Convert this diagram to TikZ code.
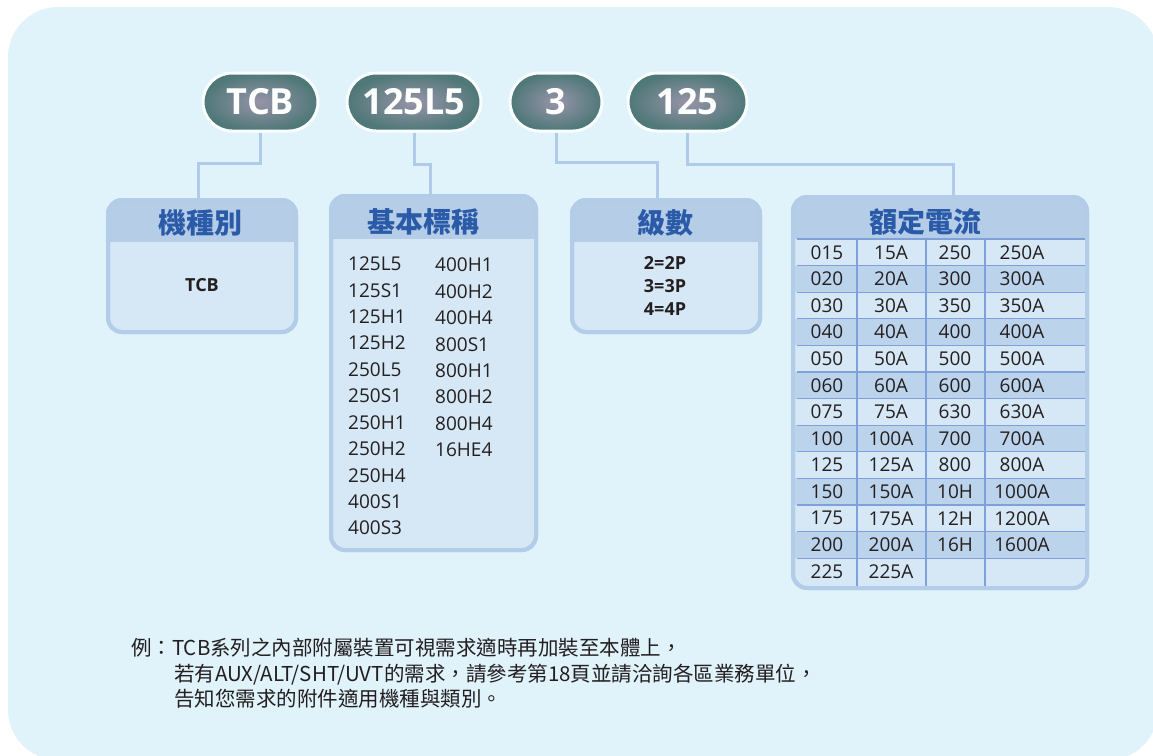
\documentclass[tikz,border=0pt]{standalone}
\usepackage{fontspec}
\setmainfont{Open Sans}
\newfontfamily\cjk{Noto Sans CJK TC}
\usetikzlibrary{positioning}

\definecolor{bgblue}{HTML}{E0F2FA}
\definecolor{panelfill}{HTML}{D6E8F6}
\definecolor{panelline}{HTML}{B3CDE9}
\definecolor{headfill}{HTML}{B5CDE7}
\definecolor{headtext}{HTML}{2B5BA8}
\definecolor{rowdark}{HTML}{BCD3EC}
\definecolor{gridblue}{HTML}{7FA0D8}
\definecolor{linkblue}{HTML}{AFCBE7}
\definecolor{pillin}{HTML}{9794A8}
\definecolor{pillout}{HTML}{4F7878}
\definecolor{ink}{HTML}{231F20}

\begin{document}
\begin{tikzpicture}[x=1pt, y=-1pt,
    pill/.style = {rectangle, rounded corners=29pt, minimum height=58pt, inner color=pillin,
                   outer color=pillout, draw=white!85!bgblue, line width=3pt, text=white,
                   font=\bfseries\fontsize{36}{36}\selectfont},
    panel/.style = {rectangle, rounded corners=14pt, fill=panelfill, draw=panelline,
                    line width=4pt, outer sep=0pt},
    rim/.style = {draw=panelline, line width=4pt, rounded corners=14pt},
    head/.style = {font=\cjk\bfseries\fontsize{28}{28}\selectfont, text=headtext, inner sep=0pt},
    item/.style = {font=\fontsize{19}{19}\selectfont, text=ink, inner sep=0pt},
    code/.style = {item, font=\bfseries\fontsize{18}{18}\selectfont},
    grid/.style = {draw=gridblue, line width=1.3pt},
    link/.style = {draw=linkblue, line width=3pt},
    note/.style = {font=\cjk\fontsize{20.5}{20.5}\selectfont, text=ink, inner sep=0pt, anchor=base west}
]
    \useasboundingbox (0,0) rectangle (1153,755);

    % Background
    \fill[bgblue, rounded corners=50pt] (8,7) rectangle (1158,760);

    % Code pills
    \node[pill, minimum width=115pt] (tcbcode) at (260.5,102) {TCB};
    \node[pill, minimum width=134pt] (framecode) at (414,102) {125L5};
    \node[pill, minimum width=92pt] (polecode) at (556,102) {3};
    \node[pill, minimum width=119pt] (ampcode) at (687.5,102) {125};

    % Panels
    \node[panel, minimum width=188pt, minimum height=132pt] (kindbox) at (202,266) {};
    \node[panel, minimum width=205pt, minimum height=354pt] (framebox) at (433.5,373) {};
    \node[panel, minimum width=188pt, minimum height=132pt] (polebox) at (666,266) {};
    \node[panel, minimum width=294pt, minimum height=391pt] (ampbox) at (940,392.5) {};

    % Headers and table fills
    \foreach \bx/\hh in {kindbox/42, framebox/43, polebox/42} {
        \begin{scope}
            \clip[rounded corners=14pt] (\bx.south west) rectangle (\bx.north east);
            \fill[headfill] (\bx.north west) rectangle ([yshift=-\hh pt]\bx.north east);
        \end{scope}
    }
    \begin{scope}
        \clip[rounded corners=14pt] (ampbox.south west) rectangle (ampbox.north east);
        \fill[headfill] (ampbox.north west) rectangle ([yshift=-42pt]ampbox.north east);
        \foreach \r in {2,4,...,12}
            \fill[rowdark] (793,{239+26.6*(\r-1)}) rectangle (1087,{239+26.6*\r});
    \end{scope}
    \foreach \r in {0,...,12}
        \draw[grid] (797,{239+26.6*\r}) -- (1085,{239+26.6*\r});
    \foreach \x in {857,926,985}
        \draw[grid] (\x,239) -- (\x,586);
    \foreach \bx in {kindbox, framebox, polebox, ampbox}
        \draw[rim] (\bx.south west) rectangle (\bx.north east);

    % Titles
    \node[head] (kindtitle) at (200,223) {機種別};
    \node[head] (frametitle) at (423,222) {基本標稱};
    \node[head] (poletitle) at (665,223) {級數};
    \node[head] (amptitle) at (925,222) {額定電流};

    % Panel contents
    \node[code] (kindtcb) at (202,285) {TCB};
    \node[code] (pole2) at (665,263) {2=2P};
    \node[code] (pole3) at (665,286) {3=3P};
    \node[code] (pole4) at (665,309) {4=4P};

    \foreach \lbl [count=\i] in {125L5,125S1,125H1,125H2,250L5,250S1,250H1,250H2,250H4,400S1,400S3}
        \node[item, anchor=west] (framea\i) at (348,{264+26.4*(\i-1)}) {\lbl};
    \foreach \lbl [count=\i] in {400H1,400H2,400H4,800S1,800H1,800H2,800H4,16HE4}
        \node[item, anchor=west] (frameb\i) at (435,{265+26.4*(\i-1)}) {\lbl};

    \foreach \a/\b/\c/\d [count=\r] in {015/15A/250/250A, 020/20A/300/300A, 030/30A/350/350A,
            040/40A/400/400A, 050/50A/500/500A, 060/60A/600/600A, 075/75A/630/630A,
            100/100A/700/700A, 125/125A/800/800A, 150/150A/10H/1000A, 175/175A/12H/1200A,
            200/200A/16H/1600A} {
        \node[item] (ampa\r) at (827,{239+26.6*(\r-0.5)}) {\a};
        \node[item] (ampb\r) at (891,{239+26.6*(\r-0.5)}) {\b};
        \node[item] (ampc\r) at (955,{239+26.6*(\r-0.5)}) {\c};
        \node[item] (ampd\r) at (1022,{239+26.6*(\r-0.5)}) {\d};
    }
    \node[item] (ampa13) at (827,{239+26.6*12.5}) {225};
    \node[item] (ampb13) at (891,{239+26.6*12.5}) {225A};

    % Links
    \draw[link] (tcbcode.south) -- ++(0,31) -| ([xshift=-4pt]kindbox.north);
    \draw[link] (framecode.south) -- ++(0,32) -| ([xshift=-3pt]framebox.north);
    \draw[link] (polecode.south) -- ++(0,30) -| ([xshift=-9pt]polebox.north);
    \draw[link] (ampcode.south) -- ++(0,32) -| ([xshift=13pt]ampbox.north);

    % Note
    \node[note] (note1) at (131,655.5) {例：TCB系列之內部附屬裝置可視需求適時再加裝至本體上，};
    \node[note] (note2) at (174,681) {若有AUX/ALT/SHT/UVT的需求，請參考第18頁並請洽詢各區業務單位，};
    \node[note] (note3) at (174,706.5) {告知您需求的附件適用機種與類別。};
\end{tikzpicture}
\end{document}
